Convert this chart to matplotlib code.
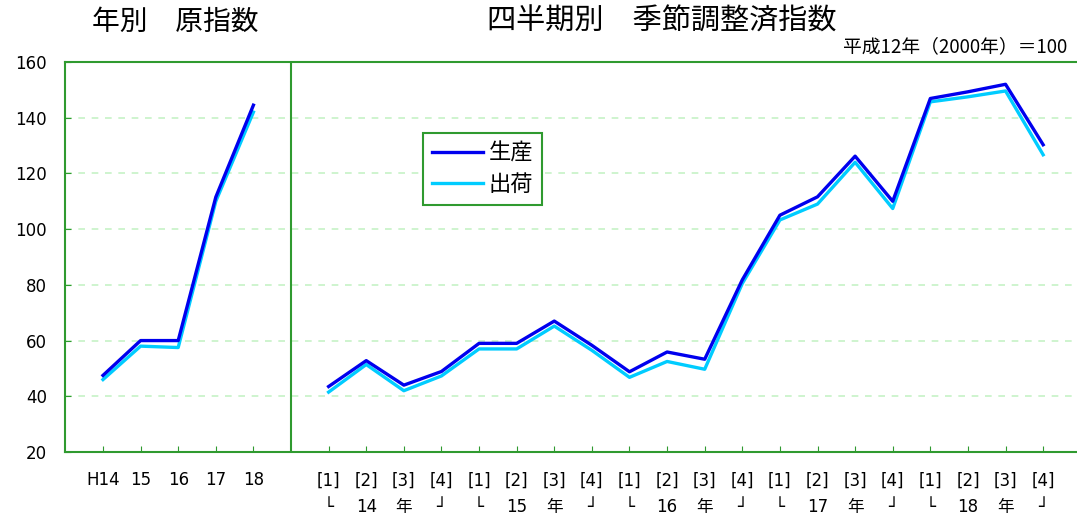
"""
Production / shipment index chart: annual raw index and quarterly
seasonally adjusted index (base: H12 = 100).
"""

import numpy as np
import matplotlib
matplotlib.use('Agg')
import matplotlib.pyplot as plt
import matplotlib.transforms as mtransforms

plt.rcParams['font.family'] = ['DejaVu Sans', 'Noto Sans CJK JP']
JP = ['Noto Sans CJK JP', 'DejaVu Sans']

# Annual raw index (H14 - H18)
annual_labels = ['H14', '15', '16', '17', '18']
annual_production = [47.5, 60.0, 60.0, 111.5, 144.5]
annual_shipment = [46.0, 58.0, 57.5, 110.0, 142.0]

# Quarterly seasonally adjusted index (H14 Q1 - H18 Q4)
quarter_labels = ['[1]', '[2]', '[3]', '[4]'] * 5
year_labels = ['14', '15', '16', '17', '18']
quarter_production = [
    43.5, 52.8, 44.0, 48.9,
    59.0, 59.0, 67.0, 58.3,
    48.8, 55.9, 53.3, 81.8,
    105.0, 111.6, 126.2, 110.0,
    146.9, 149.3, 152.0, 130.3,
]
quarter_shipment = [
    41.5, 51.4, 42.0, 47.3,
    57.0, 57.0, 65.2, 56.5,
    46.8, 52.5, 49.7, 80.5,
    103.3, 109.0, 124.0, 107.4,
    145.7, 147.5, 149.6, 126.7,
]

SPINE = '#2f9a2f'
GRID = '#c6f2c6'
PROD = '#0000ee'
SHIP = '#00ccff'

fig = plt.figure(figsize=(10.77, 5.19), dpi=100)
ax = fig.add_axes([65 / 1077, 1 - 452 / 519, 1 - 65 / 1077, (452 - 62) / 519])

x_annual = np.arange(len(annual_labels))
x_quarter = np.arange(len(quarter_labels)) + len(annual_labels) + 1

# Shipment first so the production line sits on top
ax.plot(x_annual, annual_shipment, color=SHIP, lw=2.4, zorder=3)
ax.plot(x_quarter, quarter_shipment, color=SHIP, lw=2.4, zorder=3)
ax.plot(x_annual, annual_production, color=PROD, lw=2.4, zorder=4, label='生産')
ax.plot(x_quarter, quarter_production, color=PROD, lw=2.4, zorder=4)
ax.plot([], [], color=SHIP, lw=2.4, label='出荷')

# Divider between annual and quarterly sections
ax.axvline(len(annual_labels), color=SPINE, lw=1.5, zorder=2)

ax.set_xlim(-1.01, 25.9)
ax.set_ylim(20, 160)
ax.set_yticks(np.arange(20, 161, 20))
ax.tick_params(axis='y', direction='in', length=4, color=SPINE, pad=13, labelsize=12)
ax.yaxis.grid(True, linestyle=(0, (4, 4)), color=GRID, lw=1.2)
ax.set_axisbelow(True)

ax.set_xticks(np.concatenate([x_annual, x_quarter]))
ax.set_xticklabels(annual_labels + quarter_labels)
ax.tick_params(axis='x', direction='in', length=4, color=SPINE, pad=14, labelsize=12)

for side in ['left', 'top', 'bottom']:
    ax.spines[side].set_color(SPINE)
    ax.spines[side].set_linewidth(1.5)
ax.spines['right'].set_visible(False)

# Second row of x labels: └ 14 年 ┘ under each year's quarters
trans = mtransforms.blended_transform_factory(ax.transData, fig.transFigure)
for i, year in enumerate(year_labels):
    base = x_quarter[i * 4]
    for j, s in enumerate(['└', year, '年', '┘']):
        ax.text(base + j, 1 - 512 / 519, s, transform=trans, ha='center',
                va='baseline', fontsize=12, family=JP if s == '年' else None)

# Titles
fig.text(175 / 1077, 1 - 22 / 519, '年別　原指数', ha='center', va='center',
         fontsize=20, family=JP)
fig.text(662 / 1077, 1 - 22 / 519, '四半期別　季節調整済指数', ha='center', va='center',
         fontsize=21, family=JP)
fig.text(1067 / 1077, 1 - 47 / 519, '平成12年（2000年）＝100', ha='right', va='center',
         fontsize=13.5, family=JP)

leg = ax.legend(loc='upper left', bbox_to_anchor=((423 - 65) / 1012, (452 - 133) / 390),
                prop={'family': JP, 'size': 16}, handlelength=2.3, handletextpad=0.25,
                labelspacing=0.35, borderpad=0.4, borderaxespad=0, fancybox=False,
                framealpha=1)
leg.get_frame().set_edgecolor(SPINE)
leg.get_frame().set_linewidth(1.5)

fig.savefig('out.png', dpi=100)
